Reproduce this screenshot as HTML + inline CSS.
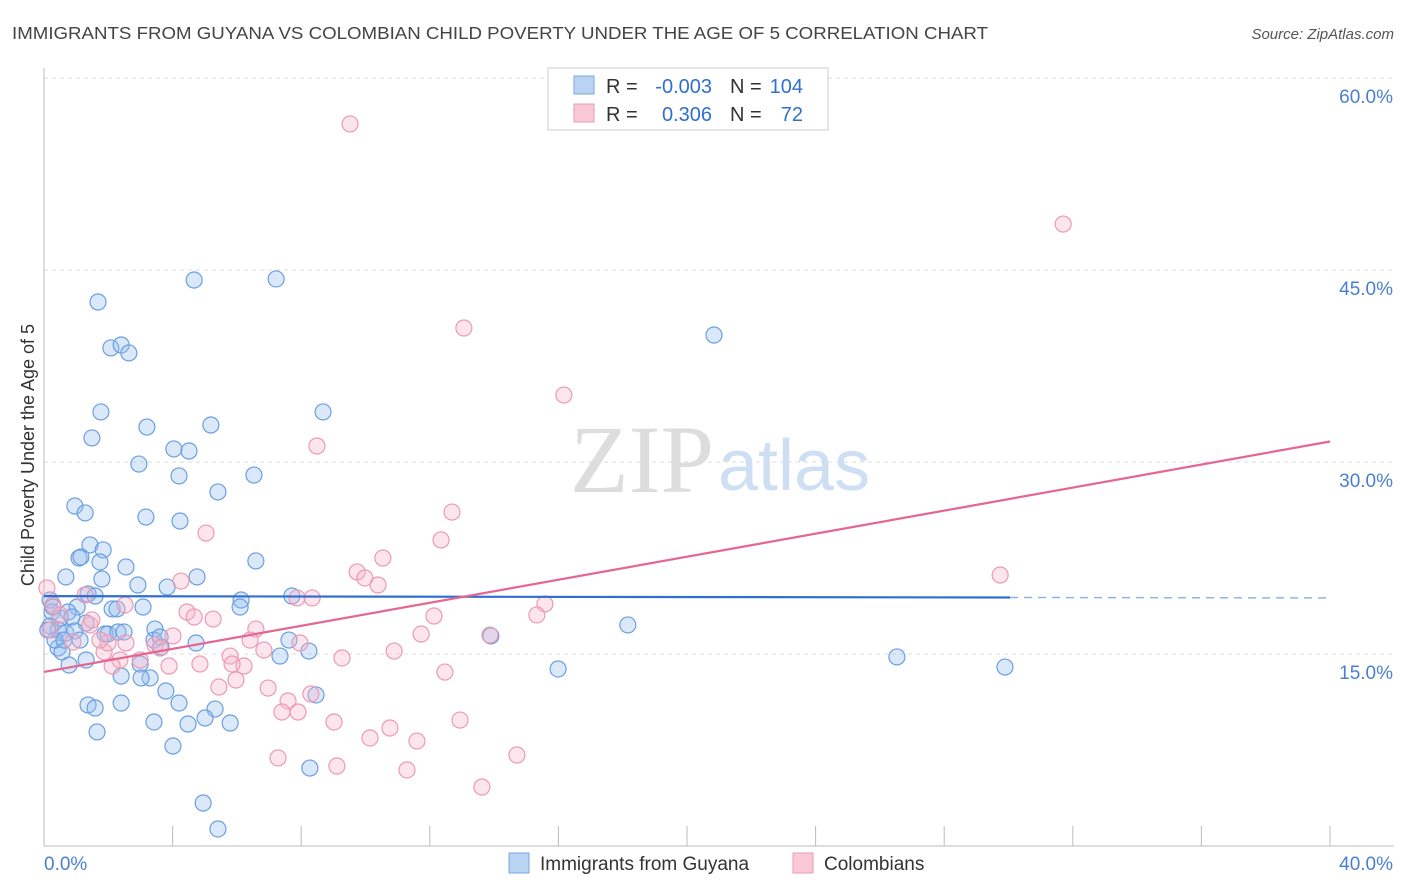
<!DOCTYPE html>
<html><head><meta charset="utf-8"><style>
body{margin:0;background:#fff;font-family:"Liberation Sans",sans-serif;}
svg{display:block}
</style></head><body>
<svg width="1406" height="892" xmlns="http://www.w3.org/2000/svg">
<text x="12" y="39" font-size="17.5" fill="#444" textLength="976" lengthAdjust="spacingAndGlyphs">IMMIGRANTS FROM GUYANA VS COLOMBIAN CHILD POVERTY UNDER THE AGE OF 5 CORRELATION CHART</text>
<text x="1394" y="39" font-size="15" fill="#555" font-style="italic" text-anchor="end">Source: ZipAtlas.com</text>
<g id="grid"></g>
<text x="714" y="492" font-size="96" fill="#ddd" font-family="Liberation Serif,serif" text-anchor="end">ZIP</text>
<text x="718" y="490" font-size="72" fill="#cfdff3">atlas</text>
<g id="pts"></g>
<g id="lines"></g>
<text transform="translate(34,455) rotate(-90)" font-size="18" fill="#333" text-anchor="middle">Child Poverty Under the Age of 5</text>
<g font-size="20">
<rect x="548" y="68" width="280" height="62" fill="#fff" stroke="#ccc"/>
<rect x="574" y="76" width="20" height="18" fill="#b9d3f3" stroke="#7aa7e0"/>
<rect x="574" y="104" width="20" height="18" fill="#f8c8d6" stroke="#ee9ab3"/>
<text x="606" y="93" fill="#333">R =</text>
<text x="712" y="93" fill="#2f6fd0" text-anchor="end">-0.003</text>
<text x="730" y="93" fill="#333">N =</text>
<text x="803" y="93" fill="#2f6fd0" text-anchor="end">104</text>
<text x="606" y="121" fill="#333">R =</text>
<text x="712" y="121" fill="#2f6fd0" text-anchor="end">0.306</text>
<text x="730" y="121" fill="#333">N =</text>
<text x="803" y="121" fill="#2f6fd0" text-anchor="end">72</text>
</g>
<g>
<rect x="509" y="853" width="20" height="20" fill="#b9d3f3" stroke="#7aa7e0"/>
<text x="540" y="870" font-size="19" fill="#333">Immigrants from Guyana</text>
<rect x="793" y="853" width="20" height="20" fill="#f8c8d6" stroke="#ee9ab3"/>
<text x="824" y="870" font-size="19" fill="#333">Colombians</text>
</g>
</svg>
<script>
const yTicks=[15,30,45,60];
const xTickLabels=["0.0%","40.0%"];
const blueX=[],blueY=[],pinkX=[],pinkY=[];
const bluePx=[[98,302],[194,280],[276,279],[111,348],[121,345],[129,353],[714,335],[101,412],[323,412],[92,438],[147,427],[211,425],[174,449],[189,451],[139,464],[179,476],[218,492],[254,475],[75,506],[85,513],[146,517],[180,521],[90,545],[103,550],[79,558],[81,557],[100,562],[126,567],[256,561],[66,577],[102,579],[138,585],[167,587],[197,577],[50,600],[88,594],[95,596],[292,596],[241,600],[240,607],[77,607],[68,612],[112,609],[117,609],[143,607],[52,612],[60,618],[72,617],[86,623],[50,626],[58,630],[66,633],[75,631],[105,634],[108,634],[118,632],[124,632],[155,629],[154,640],[161,647],[196,643],[289,640],[309,651],[280,656],[491,636],[628,625],[58,648],[62,652],[69,665],[86,660],[140,664],[121,676],[150,678],[141,678],[897,657],[1005,667],[558,669],[166,691],[179,703],[316,695],[121,703],[88,705],[95,708],[215,709],[205,718],[154,722],[188,724],[230,723],[97,732],[173,746],[310,768],[203,803],[218,829],[55,640],[48,630],[53,607],[64,640],[80,640],[160,637]];
const pinkPx=[[350,124],[1063,224],[464,328],[564,395],[317,446],[452,512],[206,533],[441,540],[383,558],[357,572],[365,578],[378,585],[181,581],[1000,575],[297,598],[312,598],[545,604],[537,615],[434,616],[187,612],[213,619],[194,617],[256,629],[421,634],[490,635],[173,636],[250,640],[155,645],[160,648],[264,650],[300,643],[394,651],[342,658],[230,656],[244,666],[232,664],[200,664],[169,666],[120,660],[112,666],[140,660],[104,652],[108,643],[126,643],[445,672],[236,680],[268,688],[219,687],[288,701],[311,694],[298,712],[282,712],[334,722],[460,720],[390,728],[370,738],[417,741],[278,758],[337,766],[517,755],[407,770],[482,787],[47,588],[53,605],[60,615],[90,625],[92,620],[100,640],[73,642],[125,605],[85,595],[50,630]];
bluePx.forEach(p=>{blueX.push(+((p[0]-44)/1286*40).toFixed(2));blueY.push(+((846-p[1])/192*15).toFixed(2));});
pinkPx.forEach(p=>{pinkX.push(+((p[0]-44)/1286*40).toFixed(2));pinkY.push(+((846-p[1])/192*15).toFixed(2));});
const blueTrend=[19.52,19.38];const blueTrendEndX=30.05;
const pinkTrend=[13.6,31.6];
const NS="http://www.w3.org/2000/svg";
const X=v=>44+v/40*1286, Y=v=>846-v/15*192;
function mk(t,a,parent){const e=document.createElementNS(NS,t);for(const k in a)e.setAttribute(k,a[k]);document.getElementById(parent).appendChild(e);return e;}
yTicks.forEach(t=>{
 const l=mk('line',{x1:44,x2:1394,y1:Y(t),y2:Y(t),stroke:'#ddd','stroke-dasharray':'4,4'},'grid');
 
 
 const tx=mk('text',{x:1393,y:Y(t)+25,'font-size':19,fill:'#4a7fd0','text-anchor':'end'},'grid');tx.textContent=t.toFixed(1)+'%';
 
 
});
mk('line',{x1:44,x2:44,y1:68,y2:846,stroke:'#bbb'},'grid');
mk('line',{x1:44,x2:1394,y1:846,y2:846,stroke:'#bbb'},'grid');
for(let i=0;i<=10;i++){mk('line',{x1:44+i*128.6,x2:44+i*128.6,y1:826,y2:846,stroke:'#bbb'},'grid');}
const xl0=mk('text',{x:44,y:870,'font-size':19,fill:'#4a7fd0'},'grid');xl0.textContent=xTickLabels[0];


const xl1=mk('text',{x:1393,y:870,'font-size':19,fill:'#4a7fd0','text-anchor':'end'},'grid');xl1.textContent=xTickLabels[1];


blueX.forEach((v,i)=>{const c=mk('circle',{cx:X(v),cy:Y(blueY[i]),r:8,fill:'rgba(150,190,240,0.35)',stroke:'#6a9fe0','stroke-width':1.2},'pts');
 
 });
pinkX.forEach((v,i)=>{const c=mk('circle',{cx:X(v),cy:Y(pinkY[i]),r:8,fill:'rgba(245,180,200,0.35)',stroke:'#ec9ab4','stroke-width':1.2},'pts');
 
 });
const by=x=>blueTrend[0]+(blueTrend[1]-blueTrend[0])*x/40;
const bl=mk('line',{x1:X(0),y1:Y(by(0)),x2:X(blueTrendEndX),y2:Y(by(blueTrendEndX)),stroke:'#2f6fd0','stroke-width':2.2},'lines');


const bd=mk('line',{x1:X(blueTrendEndX),y1:Y(by(blueTrendEndX)),x2:X(40),y2:Y(by(40)),stroke:'#8fb3e6','stroke-width':1.5,'stroke-dasharray':'8,6'},'lines');


const pl=mk('line',{x1:X(0),y1:Y(pinkTrend[0]),x2:X(40),y2:Y(pinkTrend[1]),stroke:'#e5668f','stroke-width':2.2},'lines');


</script>
</body></html>
